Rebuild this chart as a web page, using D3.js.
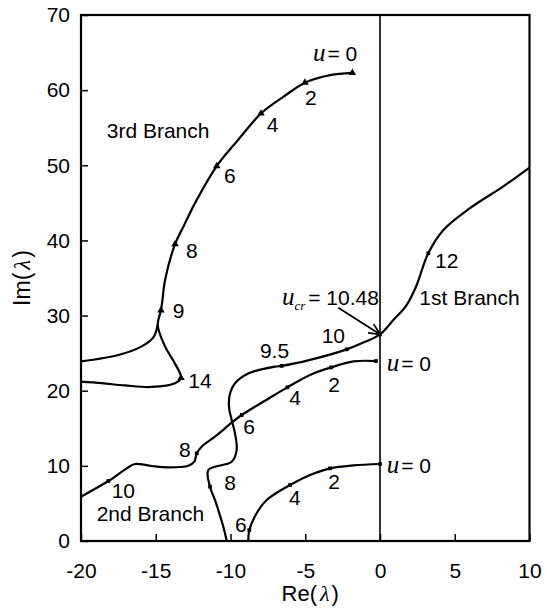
<!DOCTYPE html>
<html><head><meta charset="utf-8">
<script src="https://cdn.jsdelivr.net/npm/d3@7"></script>
<style>
body{margin:0;background:#fff;}
svg{display:block;}
text{font-family:"Liberation Sans",Arial,sans-serif;fill:#000;}
</style></head>
<body><svg id="c" width="547" height="611"></svg>
<script>
// ---- data (Re, Im) ----
const xTicks = [-20,-15,-10,-5,0,5,10];
const yTicks = [0,10,20,30,40,50,60,70];

const branch3Main = [[-1.85,62.3],[-3.34,62.0],[-5.02,61.0],[-6.47,59.1],[-7.96,56.9],[-9.48,53.4],[-10.92,49.9],[-12.26,45.4],[-13.16,41.8],[-13.71,39.5],[-14.38,34.7],[-14.55,32.1],[-14.65,30.7],[-14.87,28.75],[-14.38,25.9],[-13.71,23.6],[-13.31,21.7],[-13.71,21.0],[-15.27,20.5],[-17.06,20.7],[-18.6,21.0],[-20,21.2]];
const branch3Left = [[-14.87,28.75],[-15.16,27.1],[-15.94,25.9],[-17.5,24.75],[-20,23.9]];
const branch3Marks = [[-1.85,62.3],[-5.02,61.0],[-7.96,56.9],[-10.92,49.9],[-13.71,39.5],[-14.65,30.7],[-13.31,21.7]];

const branch2 = [[-0.27,23.95],[-1.78,23.9],[-3.28,23.1],[-4.68,22.1],[-6.2,20.45],[-7.58,18.8],[-9.25,16.77],[-9.92,15.74],[-11.04,13.88],[-11.93,12.55],[-12.26,11.67],[-12.42,10.55],[-12.82,10.02],[-14.16,9.81],[-15.27,9.98],[-16.39,10.25],[-16.94,9.67],[-18.17,7.98],[-20,5.9]];
const branch2Marks = [[-0.27,23.95],[-3.28,23.1],[-6.2,20.45],[-9.25,16.77],[-12.26,11.67],[-18.17,7.98]];

const branch1 = [[-10.25,0],[-10.48,1.9],[-11.04,5.46],[-11.37,7.23],[-11.48,9.45],[-9.92,10.55],[-9.59,12.1],[-9.7,14.33],[-9.92,16.1],[-10.1,17.87],[-10.03,19.66],[-9.7,21.0],[-8.81,22.3],[-7.02,23.2],[-6.58,23.3],[-4.68,24.1],[-2.23,25.5],[-1.0,26.5],[0,27.5],[0.89,29.4],[1.78,31.4],[2.4,33.8],[3.23,38.3],[4.24,41.4],[6.02,44.3],[8.25,47.2],[10,49.7]];
const branch1Marks = [[-11.37,7.23],[-6.58,23.3],[-2.23,25.5],[0,27.5],[3.23,38.3]];

const lowCurve = [[0,10.25],[-1.78,10.07],[-3.34,9.67],[-4.68,8.78],[-6.02,7.45],[-7.58,5.46],[-8.25,3.69],[-8.74,1.46],[-8.81,0]];
const lowMarks = [[0,10.25],[-3.34,9.67],[-6.02,7.45],[-8.74,1.46]];

const numLabels = [
  ["2",-5.02,58.0],["4",-7.58,54.47],["6",-10.43,47.68],["8",-12.98,37.66],["9",-13.87,29.68],["14",-12.82,20.4],
  ["2",-3.46,19.87],["4",-6.07,18.1],["6",-9.14,14.24],["8",-13.44,11.22],["10",-17.95,5.75],
  ["8",-10.41,6.79],["9.5",-8.03,24.31],["10",-3.9,26.31],["12",3.68,36.29],
  ["2",-3.46,6.92],["4",-6.09,4.79],["6",-9.7,1.24]
];
const branchLabels = [["3rd Branch",-18.28,53.67],["2nd Branch",-18.95,2.6],["1st Branch",2.63,31.41]];
const u0Labels = [[-4.48,63.88],[0.45,22.62],[0.45,9.05]];
const ucrLabel = {value:"10.48", x:-6.56, y:31.41};
const ucrArrow = [[-2.79,31.05],[0,27.5]];

// ---- drawing ----
const svg = d3.select("#c");
const x = d3.scaleLinear().domain([-20,10]).range([81,529.5]);
const y = d3.scaleLinear().domain([0,70]).range([541,15]);
const fmt = d => String(d);

const gx = svg.append("g").attr("transform",`translate(0,${y(0)})`)
  .call(d3.axisBottom(x).tickValues(xTicks).tickFormat(fmt).tickSizeInner(-7).tickSizeOuter(0).tickPadding(22));
const gy = svg.append("g").attr("transform",`translate(${x(-20)},0)`)
  .call(d3.axisLeft(y).tickValues(yTicks).tickFormat(fmt).tickSizeInner(-7).tickSizeOuter(0).tickPadding(11));
[gx,gy].forEach(g=>{
  g.select(".domain").remove();
  g.selectAll(".tick line").attr("stroke","#000").attr("stroke-width",1.5);
  g.selectAll(".tick text").style("font-family",'"Liberation Sans",Arial,sans-serif').style("font-size","21px").attr("fill","#000");
});

// frame
svg.append("rect").attr("x",x(-20)).attr("y",y(70)).attr("width",x(10)-x(-20)).attr("height",y(0)-y(70))
  .attr("fill","none").attr("stroke","#000").attr("stroke-width",2.2);
// vertical line at Re=0
svg.append("line").attr("x1",x(0)).attr("x2",x(0)).attr("y1",y(0)).attr("y2",y(70)).attr("stroke","#000").attr("stroke-width",1.6);

const line = d3.line().x(d=>x(d[0])).y(d=>y(d[1])).curve(d3.curveCatmullRom.alpha(0.5));
[branch3Main,branch3Left,branch2,branch1,lowCurve].forEach(p=>{
  svg.append("path").attr("d",line(p)).attr("fill","none").attr("stroke","#000").attr("stroke-width",2.2);
});

const tri = d3.symbol().type(d3.symbolTriangle).size(24);
svg.selectAll(".m3").data(branch3Marks).join("path").attr("d",tri)
  .attr("transform",d=>`translate(${x(d[0])},${y(d[1])})`).attr("fill","#000");
const sq = d3.symbol().type(d3.symbolSquare).size(14);
svg.selectAll(".ms").data([...branch2Marks,...branch1Marks,...lowMarks]).join("path").attr("d",sq)
  .attr("transform",d=>`translate(${x(d[0])},${y(d[1])})`).attr("fill","#000");

svg.selectAll(".nl").data(numLabels).join("text").attr("x",d=>x(d[1])).attr("y",d=>y(d[2]))
  .style("font-size","21px").text(d=>d[0]);
svg.selectAll(".bl").data(branchLabels).join("text").attr("x",d=>x(d[1])).attr("y",d=>y(d[2]))
  .style("font-size","21px").text(d=>d[0]);

u0Labels.forEach(d=>{
  const t = svg.append("text").attr("x",x(d[0])).attr("y",y(d[1]));
  t.append("tspan").style("font-family",'"Liberation Serif","Times New Roman",serif').style("font-style","italic").style("font-size","25px").text("u");
  t.append("tspan").style("font-size","21px").attr("dx",2).text("= 0");
});

const tu = svg.append("text").attr("x",x(ucrLabel.x)).attr("y",y(ucrLabel.y));
tu.append("tspan").style("font-family",'"Liberation Serif","Times New Roman",serif').style("font-style","italic").style("font-size","25px").text("u");
tu.append("tspan").style("font-family",'"Liberation Serif","Times New Roman",serif').style("font-style","italic").style("font-size","13px").attr("dy",5).text("cr");
tu.append("tspan").style("font-size","21px").attr("dy",-5).attr("dx",3).text("= "+ucrLabel.value);

// arrow
const ax0=x(ucrArrow[0][0]), ay0=y(ucrArrow[0][1]), ax1=x(ucrArrow[1][0]), ay1=y(ucrArrow[1][1]);
svg.append("line").attr("x1",ax0).attr("y1",ay0).attr("x2",ax1).attr("y2",ay1).attr("stroke","#000").attr("stroke-width",1.8);
const ang = Math.atan2(ay1-ay0, ax1-ax0), hl=12, hw=0.45;
svg.append("path").attr("d",`M${ax1-hl*Math.cos(ang-hw)},${ay1-hl*Math.sin(ang-hw)}L${ax1},${ay1}L${ax1-hl*Math.cos(ang+hw)},${ay1-hl*Math.sin(ang+hw)}`)
  .attr("fill","none").attr("stroke","#000").attr("stroke-width",1.8);

// axis titles
const rt = svg.append("text").attr("x",(x(-20)+x(10))/2+5).attr("y",601).attr("text-anchor","middle").style("font-size","22px");
rt.append("tspan").text("Re(");
rt.append("tspan").style("font-family",'"Liberation Serif","Times New Roman",serif').style("font-style","italic").attr("dx",3).text("λ");
rt.append("tspan").attr("dx",2).text(")");
const it = svg.append("text").attr("transform",`translate(30,${(y(0)+y(70))/2}) rotate(-90)`).attr("text-anchor","middle").style("font-size","23px");
it.append("tspan").text("Im(");
it.append("tspan").style("font-family",'"Liberation Serif","Times New Roman",serif').style("font-style","italic").attr("dx",3).text("λ");
it.append("tspan").attr("dx",2).text(")");
</script></body></html>
